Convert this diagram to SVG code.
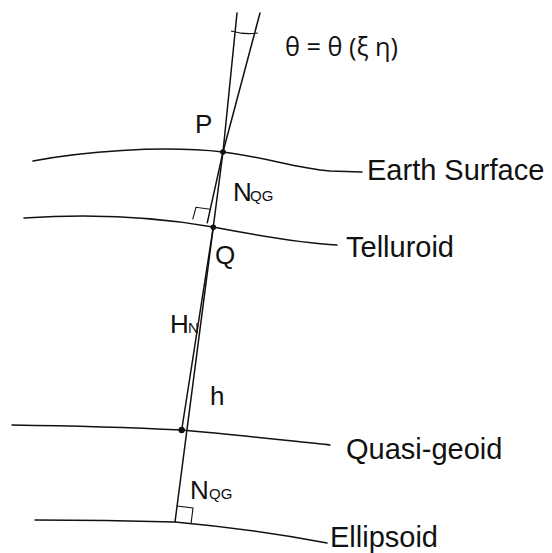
<svg xmlns="http://www.w3.org/2000/svg" width="552" height="553" viewBox="0 0 552 553">
<style>
.ln{fill:none;stroke:#111;stroke-width:1.5;stroke-linecap:round;stroke-linejoin:round}
.thin{fill:none;stroke:#111;stroke-width:1.1}
.lbl{font-family:"Liberation Sans",Arial,sans-serif;font-size:29px;fill:#111}
.sym{font-family:"Liberation Sans",Arial,sans-serif;font-size:26px;fill:#111}
.sub{font-family:"Liberation Sans",Arial,sans-serif;font-size:15px;fill:#111}
.dot{fill:#111}
</style>
<rect width="552" height="553" fill="#fff"/>
<g id="surfaces">
<g id="earth-surface">
<path class="ln" d="M33,161 C80,152 160,145 223,152 C265,157 295,168 330,171 L362,172"/>
<text class="lbl" x="367" y="180">Earth Surface</text>
</g>
<g id="telluroid">
<path class="ln" d="M24,218 C70,215 140,214 213,227 C255,235 300,243 337,245"/>
<text class="lbl" x="346" y="257">Telluroid</text>
</g>
<g id="quasi-geoid">
<path class="ln" d="M12,425 C80,426 140,428 182,430 C240,435 300,442 330,445"/>
<text class="lbl" x="346" y="459">Quasi-geoid</text>
</g>
<g id="ellipsoid">
<path class="ln" d="M35,520 C90,520 140,521 175,522 C230,527 290,536 327,543"/>
<text class="lbl" x="330" y="547">Ellipsoid</text>
</g>
</g>
<g id="connectors">
<line class="ln" x1="237" y1="13" x2="223" y2="152"/>
<line class="ln" x1="260" y1="13" x2="223" y2="152"/>
<line class="ln" x1="223" y1="152" x2="207.3" y2="222.7"/>
<line class="ln" x1="223" y1="152" x2="175" y2="522"/>
<line class="ln" x1="213.3" y1="227" x2="181.7" y2="430"/>
<path class="thin" d="M231,31 Q245,35 258,33"/>
<polyline class="thin" points="192.7,219.3 196,207.3 210,209.3"/>
<polyline class="thin" points="177,506 193,508 191,524"/>
</g>
<g id="points">
<circle class="dot" cx="223" cy="152" r="2.8"/>
<circle class="dot" cx="213.3" cy="227.3" r="2.8"/>
<circle class="dot" cx="181.7" cy="430" r="3.2"/>
</g>
<g id="labels">
<text class="sym" x="195" y="133">P</text>
<text class="sym" x="215" y="264">Q</text>
<text class="sym" x="233" y="201">N<tspan class="sub" x="250" y="201">QG</tspan></text>
<text class="sym" x="170" y="333">H<tspan class="sub" x="188" y="333">N</tspan></text>
<text class="sym" x="210" y="405">h</text>
<text class="sym" x="190" y="499">N<tspan class="sub" x="209" y="499">QG</tspan></text>
<text x="285" y="56" font-family="'Open Sans','DejaVu Sans',sans-serif" font-size="26" fill="#111" textLength="113" lengthAdjust="spacingAndGlyphs">θ = θ (ξ η)</text>
</g>
</svg>
